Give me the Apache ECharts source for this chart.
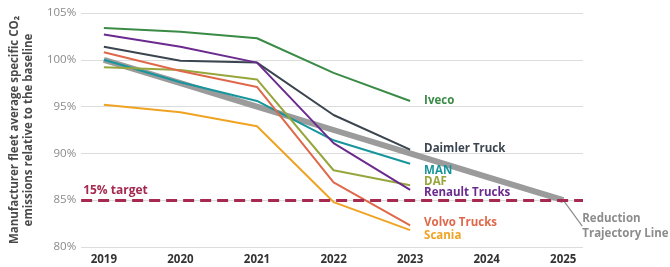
<!DOCTYPE html>
<html>
<head>
<meta charset="utf-8">
<script src="https://cdnjs.cloudflare.com/ajax/libs/echarts/6.0.0/echarts.min.js"></script>
<style>
  html, body { margin: 0; padding: 0; background: #fff; }
  #chart { width: 670px; height: 267px; }
</style>
</head>
<body>
<div id="chart"></div>
<script>
// ── Datos ──────────────────────────────────────────────────────────────────
const years = [2019, 2020, 2021, 2022, 2023];
const trajYears = [2019, 2020, 2021, 2022, 2023, 2024, 2025];
const yTicks = [80, 85, 90, 95, 100, 105];

const iveco   = [103.4, 103.0, 102.3, 98.6, 95.6];
const daimler = [101.4, 99.9, 99.7, 94.1, 90.4];
const man     = [100.0, 97.6, 95.6, 91.4, 88.9];
const daf     = [99.2, 98.9, 97.9, 88.2, 86.6];
const renault = [102.7, 101.4, 99.7, 91.1, 86.1];
const volvo   = [100.8, 98.8, 97.1, 86.9, 82.3];
const scania  = [95.2, 94.4, 92.9, 84.8, 81.8];
const trajectory = [100, 97.5, 95, 92.5, 90, 87.5, 85];
const target = 85;

// ── Estilo por fabricante ─────────────────────────────────────────────────
const MAKERS = [
  { name: 'Iveco',          data: iveco,   color: '#3a8b45', off: [6, 0] },
  { name: 'Daimler Truck',  data: daimler, color: '#3b4550', off: [6, -1] },
  { name: 'MAN',            data: man,     color: '#17959c', off: [6, 7] },
  { name: 'DAF',            data: daf,     color: '#97a63c', off: [6, -4] },
  { name: 'Renault Trucks', data: renault, color: '#6a2a8e', off: [6, 3] },
  { name: 'Volvo Trucks',   data: volvo,   color: '#e0684a', off: [6, -3] },
  { name: 'Scania',         data: scania,  color: '#f0a323', off: [6, 6] },
];

const FONT = '"Open Sans", "DejaVu Sans", sans-serif';

const chart = echarts.init(document.getElementById('chart'), null, { renderer: 'canvas' });

const lastIdx = trajYears.length - 1;

const series = [
  {
    name: 'Reduction Trajectory Line',
    type: 'line',
    data: trajYears.map((y, i) => {
      if (i !== lastIdx) return [y, trajectory[i]];
      return {
        value: [y, trajectory[i]],
        label: {
          show: true,
          position: 'right',
          formatter: 'Reduction\nTrajectory Line',
          color: '#8c8c8c',
          fontFamily: FONT,
          fontWeight: 'bold',
          fontSize: 11.5,
          lineHeight: 15,
          align: 'left',
        },
      };
    }),
    symbol: 'circle',
    symbolSize: 0,
    showSymbol: true,
    showAllSymbol: true,
    itemStyle: { color: '#9b9b9b' },
    lineStyle: { color: '#9b9b9b', width: 6 },
    labelLayout: { dx: 14, dy: 26 },
    labelLine: { show: true, lineStyle: { color: '#8c8c8c', width: 1.2 } },
    z: 1,
    markLine: {
      silent: true,
      symbol: 'none',
      data: [{ yAxis: target }],
      lineStyle: { color: '#a6294f', width: 3, type: [11, 6] },
      label: {
        show: true,
        position: 'insideStartTop',
        formatter: '15% target',
        color: '#a6294f',
        fontFamily: FONT,
        fontWeight: 'bold',
        fontSize: 12,
        distance: [2, 4],
      },
    },
  },
  ...MAKERS.map(m => ({
    name: m.name,
    type: 'line',
    data: years.map((y, i) => [y, m.data[i]]),
    symbol: 'none',
    lineStyle: { color: m.color, width: 2 },
    z: 3,
    endLabel: {
      show: true,
      formatter: m.name,
      color: m.color,
      fontFamily: FONT,
      fontWeight: 'bold',
      fontSize: 11.5,
      offset: m.off,
    },
  })),
];

chart.setOption({
  animation: false,
  textStyle: { fontFamily: FONT },
  grid: { left: 75, right: 87, top: 13, bottom: 20 },
  xAxis: {
    type: 'value',
    min: 2018.703,
    max: 2025.258,
    axisLine: { show: false },
    axisTick: { show: false },
    splitLine: { show: false },
    axisLabel: {
      customValues: trajYears,
      color: '#333',
      fontWeight: 'bold',
      fontSize: 11.5,
      margin: 7,
      formatter: v => String(v),
    },
  },
  yAxis: {
    type: 'value',
    min: yTicks[0],
    max: yTicks[yTicks.length - 1],
    interval: 5,
    axisLine: { show: false },
    axisTick: { show: false },
    splitLine: { lineStyle: { color: '#dcdcdc', width: 1.2 } },
    axisLabel: { color: '#8a8a8a', fontSize: 11.5, margin: 5, formatter: '{value}%' },
    name: 'Manufacturer fleet average specific CO\u2082\nemissions relative to the baseline',
    nameLocation: 'middle',
    nameGap: 21,
    nameTextStyle: {
      color: '#4a4a4a',
      fontWeight: 'bold',
      fontSize: 11.5,
      lineHeight: 14,
      align: 'center',
    },
  },
  series,
});
</script>
</body>
</html>
